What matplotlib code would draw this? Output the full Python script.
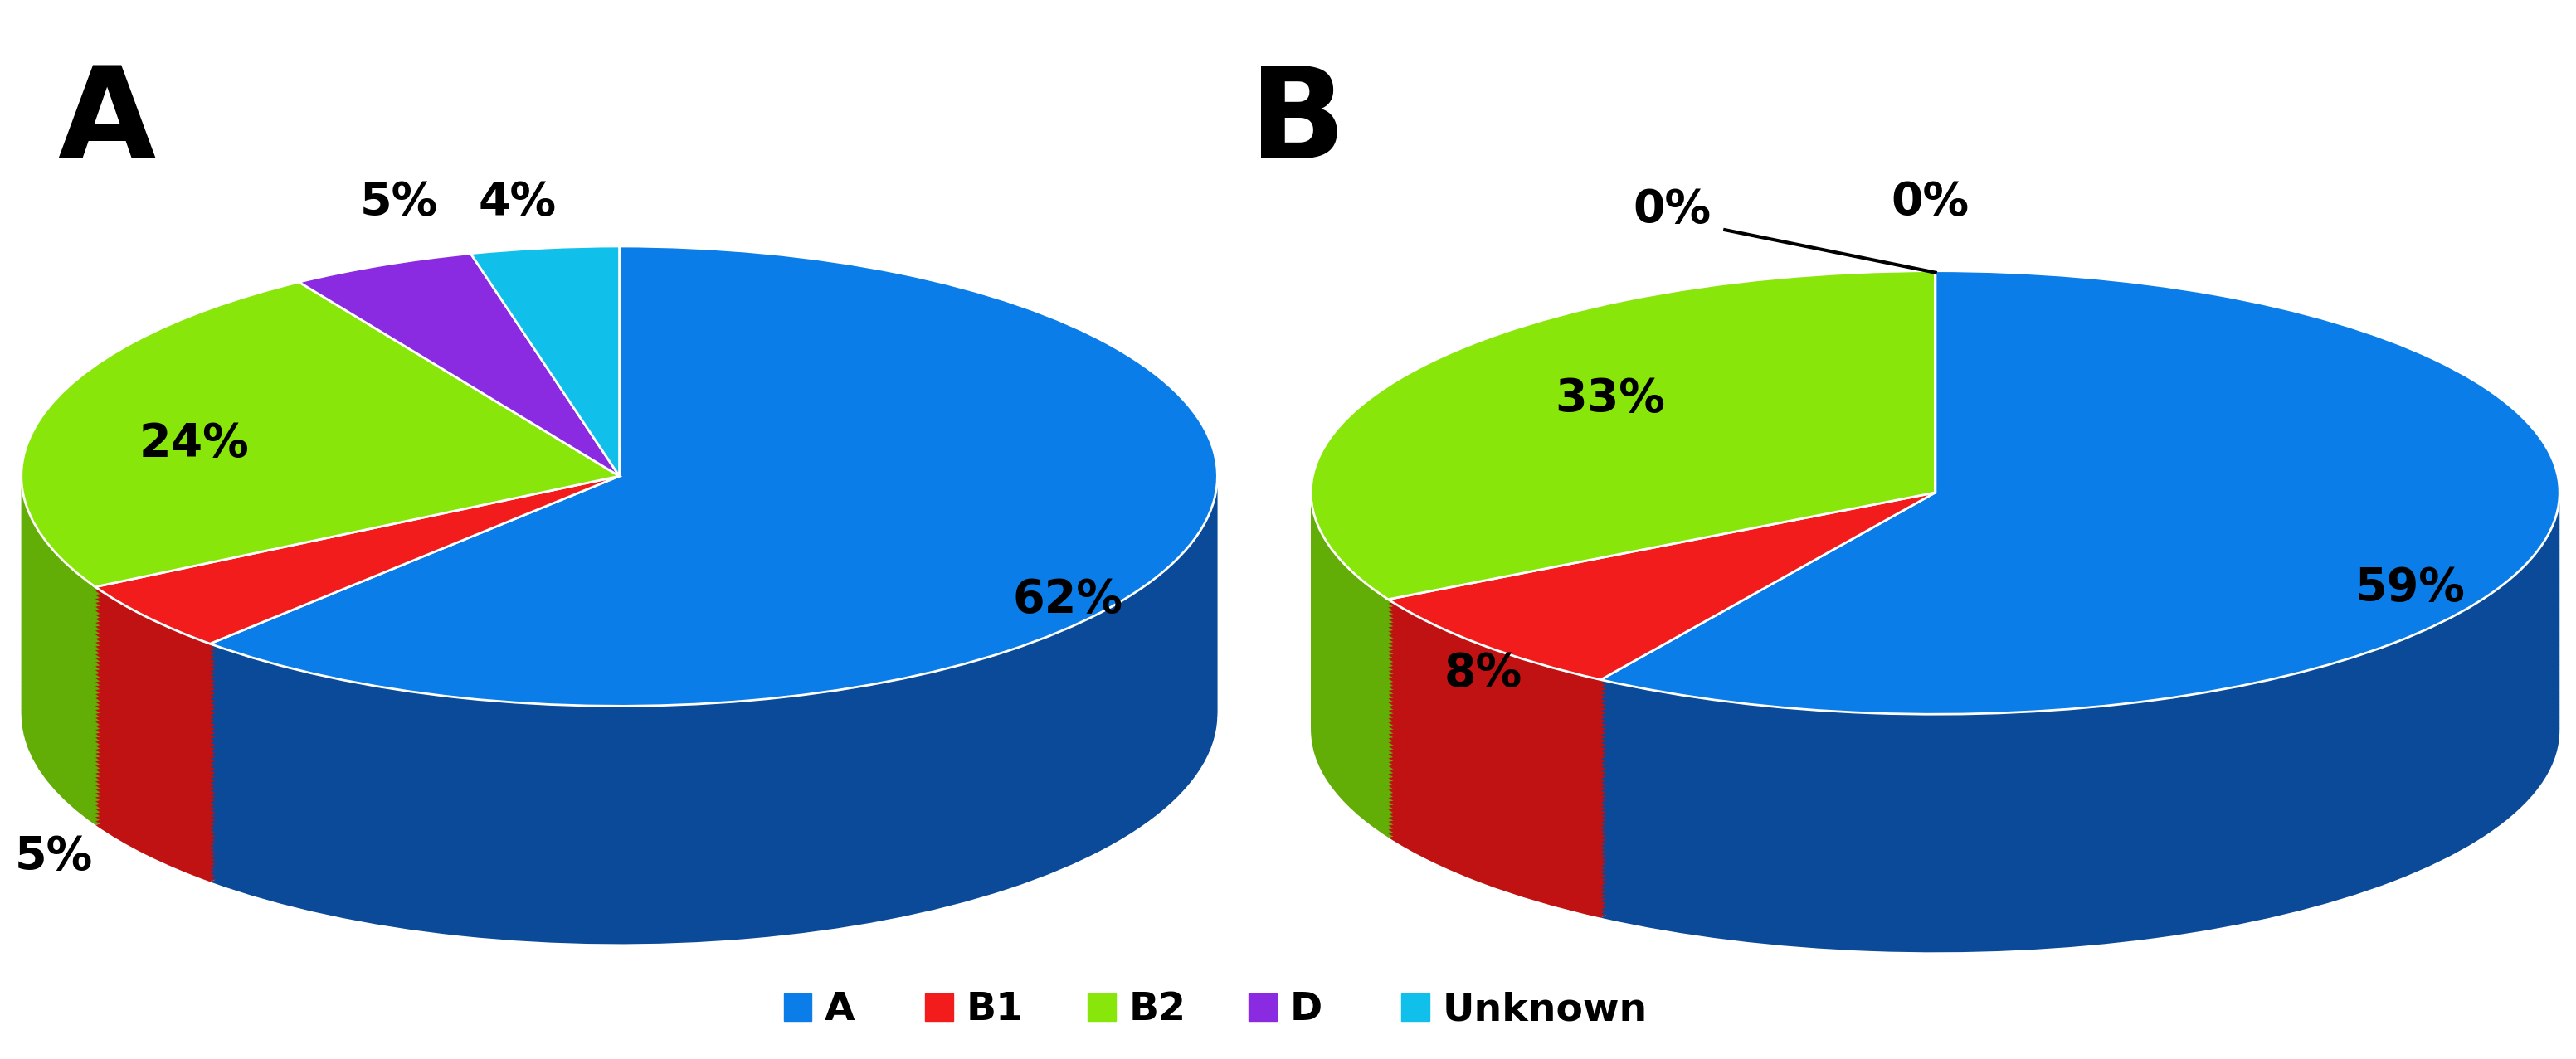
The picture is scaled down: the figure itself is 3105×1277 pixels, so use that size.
import matplotlib
matplotlib.use("Agg")
import matplotlib.pyplot as plt
from matplotlib.patches import Rectangle

categories = ["A", "B1", "B2", "D", "Unknown"]
values_a = [62, 5, 24, 5, 4]
values_b = [59, 8, 33, 0, 0]
labels_a = ["62%", "5%", "24%", "5%", "4%"]
labels_b = ["59%", "8%", "33%", "0%", "0%"]

top_colors = ["#0a7de8", "#f21c1c", "#88e60a", "#8a2be2", "#10c0ea"]
side_colors = ["#0a4a98", "#c01212", "#62ad06", "#5e1a9e", "#0a8ab0"]

W, H = 1568.0, 645.0
fig = plt.figure(figsize=(31.05, 12.77), dpi=100)

def fx(x): return x / W
def fy(y): return 1 - y / H

def draw_pie(vals, cx, cy, hr, vr, depth):
    d = depth / vr
    left = fx(cx - hr); width = 2 * hr / W
    top = cy - vr
    height = (2 + d) * vr / H
    bottom = fy(top) - height
    ax = fig.add_axes([left, bottom, width, height])
    n = 60
    for k in range(n, 0, -1):
        ax.pie(vals, colors=side_colors, startangle=90, counterclock=False,
               center=(0, -d * k / n), radius=1, frame=True,
               wedgeprops=dict(linewidth=0))
    ax.pie(vals, colors=top_colors, startangle=90, counterclock=False,
           center=(0, 0), radius=1, frame=True,
           wedgeprops=dict(linewidth=2, edgecolor="white"))
    ax.set_aspect("auto")
    ax.set_xlim(-1, 1); ax.set_ylim(-1 - d, 1); ax.axis("off")
    return ax

draw_pie(values_a, 377, 290, 364, 140, 145)
draw_pie(values_b, 1178, 300, 380, 135, 145)

fs = 40
pos_a = [(650, 365), (33, 522), (118, 270), (243, 123), (315, 123)]
pos_b = [(1467, 358), (903, 410), (980, 243), (1018, 128), (1175, 123)]
for lab, (x, y) in zip(labels_a, pos_a):
    fig.text(fx(x), fy(y), lab, fontsize=fs, fontweight="bold", ha="center", va="center")
for lab, (x, y) in zip(labels_b, pos_b):
    fig.text(fx(x), fy(y), lab, fontsize=fs, fontweight="bold", ha="center", va="center")
fig.add_artist(plt.Line2D([fx(1050), fx(1178)], [fy(140), fy(166)], color="black", lw=3,
                          transform=fig.transFigure))

fig.text(fx(65), fy(75), "A", fontsize=110, fontweight="bold", ha="center", va="center")
fig.text(fx(790), fy(75), "B", fontsize=110, fontweight="bold", ha="center", va="center")

leg_x = [487, 573, 672, 770, 863]
for c, lab, x in zip(top_colors, categories, leg_x):
    fig.add_artist(Rectangle((fx(x - 10), fy(622)), 17 / W, 17 / H, color=c,
                             transform=fig.transFigure))
    fig.text(fx(x + 15), fy(615), lab, fontsize=34, fontweight="bold", ha="left", va="center")

fig.savefig("out.png", dpi=100)
